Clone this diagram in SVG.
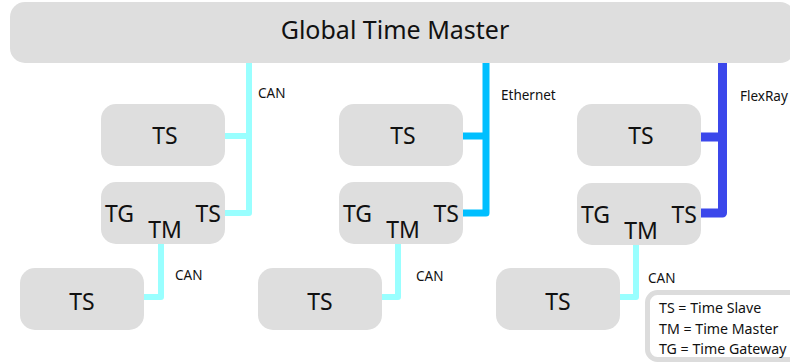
<svg xmlns="http://www.w3.org/2000/svg" width="790" height="364" viewBox="0 0 790 364">
<style>
.box{fill:#dedede}
.t{font-family:"Noto Sans","Open Sans",sans-serif;fill:#111}
.big{font-size:23px}
.lbl{font-size:13.5px}
.leg{font-size:14.2px}
.bus{fill:none;stroke-linejoin:round;stroke-linecap:butt}
.can{stroke:#99ffff;stroke-width:6}
.eth{stroke:#00bfff;stroke-width:7}
.fr{stroke:#3b47eb;stroke-width:9}
</style>
<rect x="0" y="0" width="790" height="364" fill="#fff"/>
<g id="connectors">
<path class="bus can" d="M249,63 V213 H225 M249,136 H225"/>
<path class="bus eth" d="M486,63 V213 H463 M486,136 H463"/>
<path class="bus fr" d="M722.5,63 V213 H701 M722.5,137 H701"/>
<path class="bus can" d="M161,244 V297 H144"/>
<path class="bus can" d="M398,244 V297 H382"/>
<path class="bus can" d="M636,244 V297 H620"/>
<text class="t lbl" x="258" y="98">CAN</text>
<text class="t lbl" x="501" y="100">Ethernet</text>
<text class="t lbl" x="740" y="101">FlexRay</text>
<text class="t lbl" x="175" y="280">CAN</text>
<text class="t lbl" x="416" y="281">CAN</text>
<text class="t lbl" x="648" y="283">CAN</text>
</g>
<g id="gtm">
<rect class="box" x="10" y="2" width="785" height="61" rx="15"/>
<text class="t" x="395" y="39" font-size="25" text-anchor="middle">Global Time Master</text>
</g>
<g id="ts1">
<rect class="box" x="101" y="104" width="124" height="62" rx="15"/>
<text class="t big" x="165" y="144" text-anchor="middle">TS</text>
</g>
<g id="tg1">
<rect class="box" x="101" y="182" width="124" height="62" rx="15"/>
<text class="t big" x="105" y="222">TG</text>
<text class="t big" x="165" y="238" text-anchor="middle">TM</text>
<text class="t big" x="221" y="222" text-anchor="end">TS</text>
</g>
<g id="ts1b">
<rect class="box" x="20" y="268" width="124" height="62" rx="15"/>
<text class="t big" x="82" y="310" text-anchor="middle">TS</text>
</g>
<g id="ts2">
<rect class="box" x="339" y="104" width="124" height="62" rx="15"/>
<text class="t big" x="403" y="144" text-anchor="middle">TS</text>
</g>
<g id="tg2">
<rect class="box" x="339" y="182" width="124" height="62" rx="15"/>
<text class="t big" x="343" y="222">TG</text>
<text class="t big" x="403" y="238" text-anchor="middle">TM</text>
<text class="t big" x="459" y="222" text-anchor="end">TS</text>
</g>
<g id="ts2b">
<rect class="box" x="258" y="268" width="124" height="62" rx="15"/>
<text class="t big" x="320" y="310" text-anchor="middle">TS</text>
</g>
<g id="ts3">
<rect class="box" x="577" y="104" width="124" height="62" rx="15"/>
<text class="t big" x="641" y="144" text-anchor="middle">TS</text>
</g>
<g id="tg3">
<rect class="box" x="577" y="183" width="124" height="62" rx="15"/>
<text class="t big" x="581" y="223">TG</text>
<text class="t big" x="641" y="239" text-anchor="middle">TM</text>
<text class="t big" x="697" y="223" text-anchor="end">TS</text>
</g>
<g id="ts3b">
<rect class="box" x="496" y="268" width="124" height="62" rx="15"/>
<text class="t big" x="558" y="310" text-anchor="middle">TS</text>
</g>
<g id="legend">
<rect x="647.5" y="292.5" width="160" height="67" rx="10" fill="#fff" stroke="#dcdcdc" stroke-width="5"/>
<text class="t leg" x="659" y="313">TS = Time Slave</text>
<text class="t leg" x="659" y="334">TM = Time Master</text>
<text class="t leg" x="659" y="354">TG = Time Gateway</text>
</g>
</svg>
